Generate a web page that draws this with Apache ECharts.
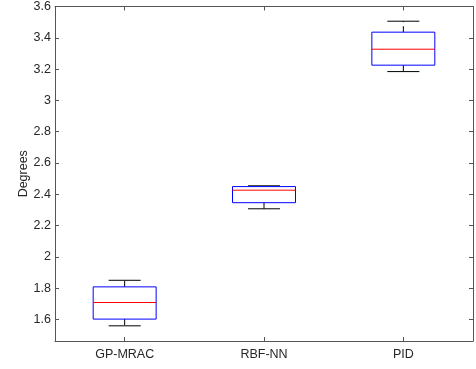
<!DOCTYPE html>
<html>
<head>
<meta charset="utf-8">
<script src="https://cdn.jsdelivr.net/npm/echarts@6/dist/echarts.min.js"></script>
<style>html,body{margin:0;padding:0;background:#fff}#c{width:476px;height:369px}</style>
</head>
<body>
<div id="c"></div>
<script>
const categories = ['GP-MRAC', 'RBF-NN', 'PID'];
const lowerWhisker = [1.559, 2.307, 3.184];
const q1 = [1.602, 2.346, 3.225];
const medians = [1.708, 2.426, 3.327];
const q3 = [1.808, 2.449, 3.436];
const upperWhisker = [1.850, 2.454, 3.506];
const yTicks = [1.6, 1.8, 2, 2.2, 2.4, 2.6, 2.8, 3, 3.2, 3.4, 3.6];
const yMin = 1.462, yMax = 3.6;

const data = categories.map((c, i) => [i, lowerWhisker[i], q1[i], medians[i], q3[i], upperWhisker[i]]);
const font = {fontFamily: 'Liberation Sans, Arial, sans-serif', fontSize: 12.5, color: '#262626'};
const axisLine = {show: true, lineStyle: {color: '#555', width: 1}};

const chart = echarts.init(document.getElementById('c'));
chart.setOption({
  animation: false,
  backgroundColor: '#fff',
  grid: {left: 55, right: 3, top: 5.5, bottom: 28, containLabel: false},
  xAxis: [
    {type: 'category', data: categories, position: 'bottom', boundaryGap: true,
     axisLine: axisLine, axisTick: {show: true, inside: true, length: 4, alignWithLabel: true, lineStyle: {color: '#555'}},
     axisLabel: Object.assign({margin: 7}, font), splitLine: {show: false}},
    {type: 'category', data: categories, position: 'top', boundaryGap: true,
     axisLine: axisLine, axisTick: {show: true, inside: true, length: 4, alignWithLabel: true, lineStyle: {color: '#555'}},
     axisLabel: {show: false}, splitLine: {show: false}}
  ],
  yAxis: [
    {type: 'value', min: yMin, max: yMax, position: 'left',
     name: 'Degrees', nameLocation: 'middle', nameGap: 25, nameRotate: 90,
     nameMoveOverlap: false,
     nameTextStyle: font,
     axisLine: axisLine,
     axisTick: {show: true, inside: true, length: 4, customValues: yTicks, lineStyle: {color: '#555'}},
     axisLabel: Object.assign({customValues: yTicks, margin: 4}, font),
     splitLine: {show: false}},
    {type: 'value', min: yMin, max: yMax, position: 'right',
     axisLine: axisLine,
     axisTick: {show: true, inside: true, length: 4, customValues: yTicks, lineStyle: {color: '#555'}},
     axisLabel: {show: false}, splitLine: {show: false}}
  ],
  series: [{
    type: 'custom',
    xAxisIndex: 0, yAxisIndex: 0,
    data: data,
    encode: {x: 0, y: [1, 2, 3, 4, 5]},
    renderItem: function (params, api) {
      const idx = api.value(0);
      const cx = api.coord([idx, 0])[0];
      const bw = api.size([1, 0])[0];
      const boxHalf = bw * 0.226;
      const capHalf = bw * 0.115;
      const yLw = api.coord([idx, api.value(1)])[1];
      const yQ1 = api.coord([idx, api.value(2)])[1];
      const yMed = api.coord([idx, api.value(3)])[1];
      const yQ3 = api.coord([idx, api.value(4)])[1];
      const yUw = api.coord([idx, api.value(5)])[1];
      const wStyle = {stroke: '#000', lineWidth: 1, lineDash: [6, 4]};
      return {
        type: 'group',
        children: [
          {type: 'line', shape: {x1: cx, y1: yQ3, x2: cx, y2: yUw}, style: wStyle},
          {type: 'line', shape: {x1: cx, y1: yQ1, x2: cx, y2: yLw}, style: wStyle},
          {type: 'line', shape: {x1: cx - capHalf, y1: yUw, x2: cx + capHalf, y2: yUw}, style: {stroke: '#000', lineWidth: 1}},
          {type: 'line', shape: {x1: cx - capHalf, y1: yLw, x2: cx + capHalf, y2: yLw}, style: {stroke: '#000', lineWidth: 1}},
          {type: 'rect', shape: {x: cx - boxHalf, y: yQ3, width: boxHalf * 2, height: yQ1 - yQ3}, style: {fill: null, stroke: '#0000ff', lineWidth: 1}},
          {type: 'line', shape: {x1: cx - boxHalf, y1: yMed, x2: cx + boxHalf, y2: yMed}, style: {stroke: '#ff0000', lineWidth: 1}}
        ]
      };
    }
  }]
});
</script>
</body>
</html>
